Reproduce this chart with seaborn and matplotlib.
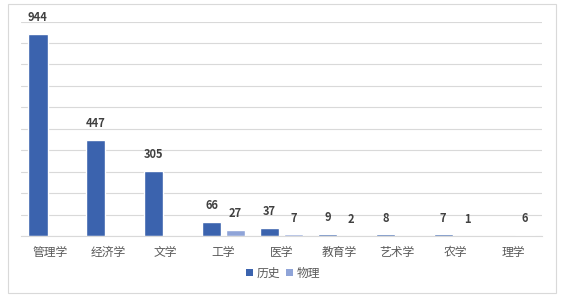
import matplotlib
matplotlib.use("Agg")
import matplotlib.pyplot as plt
import seaborn as sns
import pandas as pd
import numpy as np

categories = ["管理学", "经济学", "文学", "工学", "医学", "教育学", "艺术学", "农学", "理学"]
history = [944, 447, 305, 66, 37, 9, 8, 7, np.nan]
physics = [np.nan, np.nan, np.nan, 27, 7, 2, np.nan, 1, 6]
series_names = ["历史", "物理"]
colors = ["#3B63AE", "#8FA4D8"]

sns.set_theme(style="white")
plt.rcParams['font.family'] = ['Noto Sans CJK SC', 'DejaVu Sans']

df = pd.DataFrame({
    "cat": categories * 2,
    "series": [series_names[0]] * len(categories) + [series_names[1]] * len(categories),
    "value": history + physics,
})

fig = plt.figure(figsize=(5.63, 2.99), dpi=100)
ax = fig.add_axes([21 / 563, (299 - 236) / 299, (542 - 21) / 563, (236 - 21.5) / 299])

sns.barplot(data=df, x="cat", y="value", hue="series", palette=colors,
            width=0.83, gap=0.2, ax=ax, legend=False, saturation=1)

ax.set_ylim(0, 1000)
ax.set_yticks(np.arange(0, 1001, 100))
ax.yaxis.grid(True, color="#D9D9D9", linewidth=0.8)
ax.set_axisbelow(True)
ax.tick_params(axis="y", left=False, labelleft=False)
ax.tick_params(axis="x", bottom=False, labelsize=8.5, labelcolor="#595959", pad=1)
for s in ["top", "right", "left"]:
    ax.spines[s].set_visible(False)
ax.spines["bottom"].set_color("#D9D9D9")
ax.spines["bottom"].set_linewidth(0.8)
ax.set_xlabel("")
ax.set_ylabel("")

for cont in ax.containers:
    labels = ["" if (np.isnan(v)) else f"{int(v)}" for v in cont.datavalues]
    ax.bar_label(cont, labels=labels, padding=7, fontsize=8, fontweight="bold", color="#404040")

# legend
from matplotlib.patches import Patch
handles = [Patch(facecolor=c, edgecolor="none") for c in colors]
fig.legend(handles, series_names, loc="center", bbox_to_anchor=(283 / 563, 1 - 273 / 299),
           ncol=2, frameon=False, fontsize=8.5, handlelength=0.6, handleheight=0.6,
           handletextpad=0.3, columnspacing=0.5, labelcolor="#595959")

# outer border
fig.patches.append(plt.Rectangle((8 / 563, 1 - 293 / 299), (556 - 8) / 563, (293 - 4) / 299,
                                 transform=fig.transFigure, fill=False, edgecolor="#D9D9D9",
                                 linewidth=0.8))

fig.savefig("out.png", dpi=100)
